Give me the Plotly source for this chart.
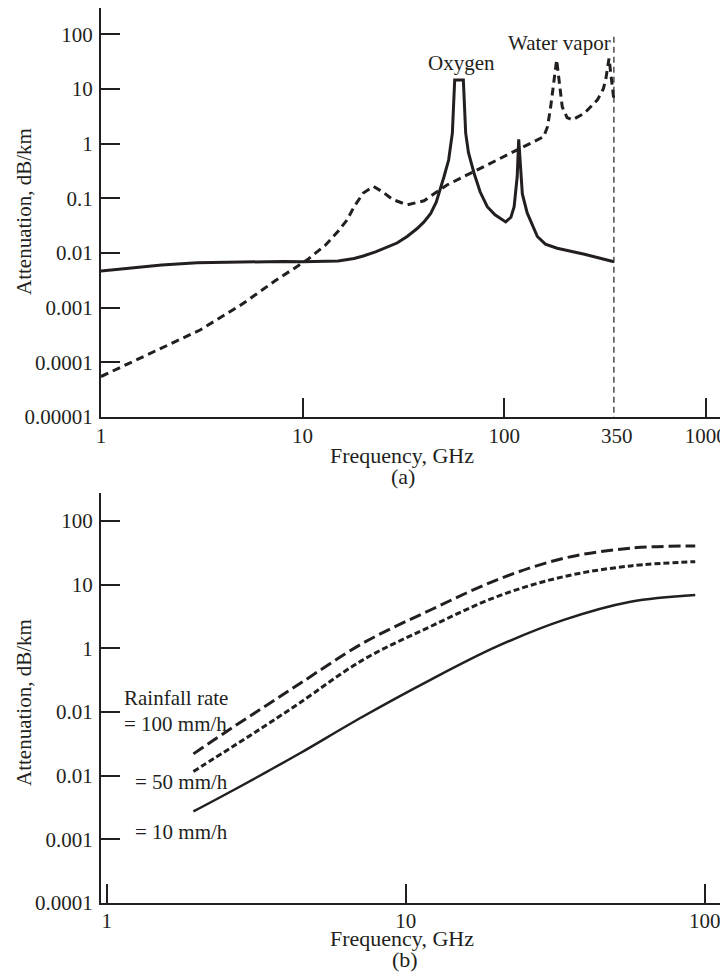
import plotly.graph_objects as go

# ---------- Panel (a): atmospheric gas attenuation ----------
oxygen_f = [1, 1.5, 2, 3, 5, 8, 10, 12, 15, 18, 20, 23, 26, 29.4, 33, 37, 40, 43.2, 46, 48, 50.3, 53,
            55.3, 56.8, 62.7, 64.4, 66.5, 70.8, 76, 82.4, 90, 101.7, 108, 112, 116, 118, 120, 123,
            130, 146, 160, 183, 250, 350]
oxygen_a = [0.0047, 0.0055, 0.006, 0.0066, 0.0069, 0.007, 0.0069, 0.0069, 0.0071, 0.0079, 0.0088,
            0.0105, 0.0128, 0.0152, 0.02, 0.028, 0.037, 0.053, 0.085, 0.14, 0.25, 0.5, 1.55, 14.6,
            14.6, 1.55, 0.68, 0.29, 0.13, 0.07, 0.05, 0.037, 0.045, 0.07, 0.25, 1.2, 0.4, 0.12,
            0.054, 0.02, 0.0145, 0.0122, 0.0095, 0.0069]

water_f = [1, 1.75, 3.1, 5, 7.4, 10.5, 13, 15, 16.6, 18, 20, 22.5, 25, 28, 33, 40, 52, 92, 157, 164,
           170, 182, 194, 205, 217.6, 250, 290, 310, 318.6, 331, 340, 350]
water_a = [5.5e-5, 1.45e-4, 3.9e-4, 1.15e-3, 3.2e-3, 0.0074, 0.014, 0.025, 0.04, 0.07, 0.125, 0.165,
           0.13, 0.095, 0.076, 0.09, 0.175, 0.5, 1.34, 2.04, 4.7, 34, 4.7, 3.0, 2.71, 3.6, 6.3, 10,
           14.6, 36, 15, 6.3]

cutoff_f = [350, 350]
cutoff_a = [90, 1e-5]

xa_ticks = [1, 10, 100, 1000]
xa_text = ["1", "10", "100", "1000"]
ya_ticks = [1e-5, 1e-4, 1e-3, 1e-2, 1e-1, 1, 10, 100]
ya_text = ["0.00001", "0.0001", "0.001", "0.01", "0.1", "1", "10", "100"]

# ---------- Panel (b): rain attenuation ----------
rain_f = [1.95, 2.65, 3.43, 4.43, 7.2, 12.1, 20.2, 33.8, 56.5, 93]
rain_10 = [0.00274, 0.0059, 0.0115, 0.0225, 0.085, 0.32, 1.07, 2.8, 5.4, 6.9]
rain_50 = [0.0116, 0.029, 0.063, 0.14, 0.66, 2.2, 6.5, 13.4, 19.7, 23]
rain_100 = [0.022, 0.058, 0.128, 0.28, 1.21, 4.0, 11.9, 26, 37.4, 40.6]

xb_ticks = [1, 10, 100]
xb_text = ["1", "10", "100"]
yb_ticks = [1e-4, 1e-3, 1e-2, 1e-1, 1, 10, 100]
yb_text = ["0.0001", "0.001", "0.01", "0.01", "1", "10", "100"]

# the page body adds an 8px margin, so the figure is placed at (8, 8)
OFF = 8
W, H = 728 - OFF, 972 - OFF
INK = "#231f20"
FONT = "Liberation Serif"
FS = 21

def px(x):
    return (x - OFF) / W

def py(y):
    return 1 - (y - OFF) / H

fig = go.Figure()

fig.add_trace(go.Scatter(x=oxygen_f, y=oxygen_a, mode="lines", xaxis="x", yaxis="y",
                         line=dict(color=INK, width=3), showlegend=False))
fig.add_trace(go.Scatter(x=water_f, y=water_a, mode="lines", xaxis="x", yaxis="y",
                         line=dict(color=INK, width=3, dash="8px,5px"), showlegend=False))
fig.add_trace(go.Scatter(x=cutoff_f, y=cutoff_a, mode="lines", xaxis="x", yaxis="y",
                         line=dict(color=INK, width=1.2, dash="6px,4px"), showlegend=False))

fig.add_trace(go.Scatter(x=rain_f, y=rain_100, mode="lines", xaxis="x2", yaxis="y2",
                         line=dict(color=INK, width=3, dash="12px,5px", shape="spline"), showlegend=False))
fig.add_trace(go.Scatter(x=rain_f, y=rain_50, mode="lines", xaxis="x2", yaxis="y2",
                         line=dict(color=INK, width=3, dash="6px,3px", shape="spline"), showlegend=False))
fig.add_trace(go.Scatter(x=rain_f, y=rain_10, mode="lines", xaxis="x2", yaxis="y2",
                         line=dict(color=INK, width=2.5, shape="spline"), showlegend=False))

axis_common = dict(type="log", showgrid=False, zeroline=False, showline=True, linecolor=INK,
                   linewidth=2, ticks="inside", ticklen=19, tickwidth=1.5, tickcolor=INK,
                   tickfont=dict(family=FONT, size=FS, color=INK), tickmode="array",
                   automargin=False)

fig.update_layout(
    width=W, height=H, margin=dict(l=0, r=0, t=0, b=0),
    paper_bgcolor="white", plot_bgcolor="white",
    xaxis=dict(axis_common, domain=[px(101), 1], anchor="y", range=[0, 3.11],
               tickvals=xa_ticks, ticktext=xa_text, ticklabelstandoff=-1),
    yaxis=dict(axis_common, domain=[py(417), py(8)], anchor="x", range=[-5, 2.48],
               tickvals=ya_ticks, ticktext=ya_text, ticklabelstandoff=2),
    xaxis2=dict(axis_common, domain=[px(101), 1], anchor="y2", range=[-0.019, 2.078],
                tickvals=xb_ticks, ticktext=xb_text, ticklabelstandoff=-2),
    yaxis2=dict(axis_common, domain=[py(903), py(493)], anchor="x2", range=[-4, 2.44],
                tickvals=yb_ticks, ticktext=yb_text, ticklabelstandoff=2),
)

def txt(s, x, y, xanchor="center", angle=0, size=FS):
    fig.add_annotation(text=s, x=px(x), y=py(y), xref="paper", yref="paper",
                       xanchor=xanchor, yanchor="middle", showarrow=False, textangle=angle,
                       font=dict(family=FONT, size=size, color=INK))

# panel (a) labels
txt("350", 617, 436)
txt("Oxygen", 461, 63)
txt("Water vapor", 559, 43)
txt("Frequency, GHz", 402, 455, size=22)
txt("(a)", 403, 476, size=22)
txt("Attenuation, dB/km", 24, 212, angle=-90)

# panel (b) labels
txt("Rainfall rate", 122, 698, xanchor="left")
txt("= 100 mm/h", 122, 724, xanchor="left")
txt("= 50 mm/h", 133, 782, xanchor="left")
txt("= 10 mm/h", 133, 832, xanchor="left")
txt("Frequency, GHz", 402, 938, size=22)
txt("(b)", 405, 959, size=22)
txt("Attenuation, dB/km", 24, 703, angle=-90)

fig.write_html("out.html")
